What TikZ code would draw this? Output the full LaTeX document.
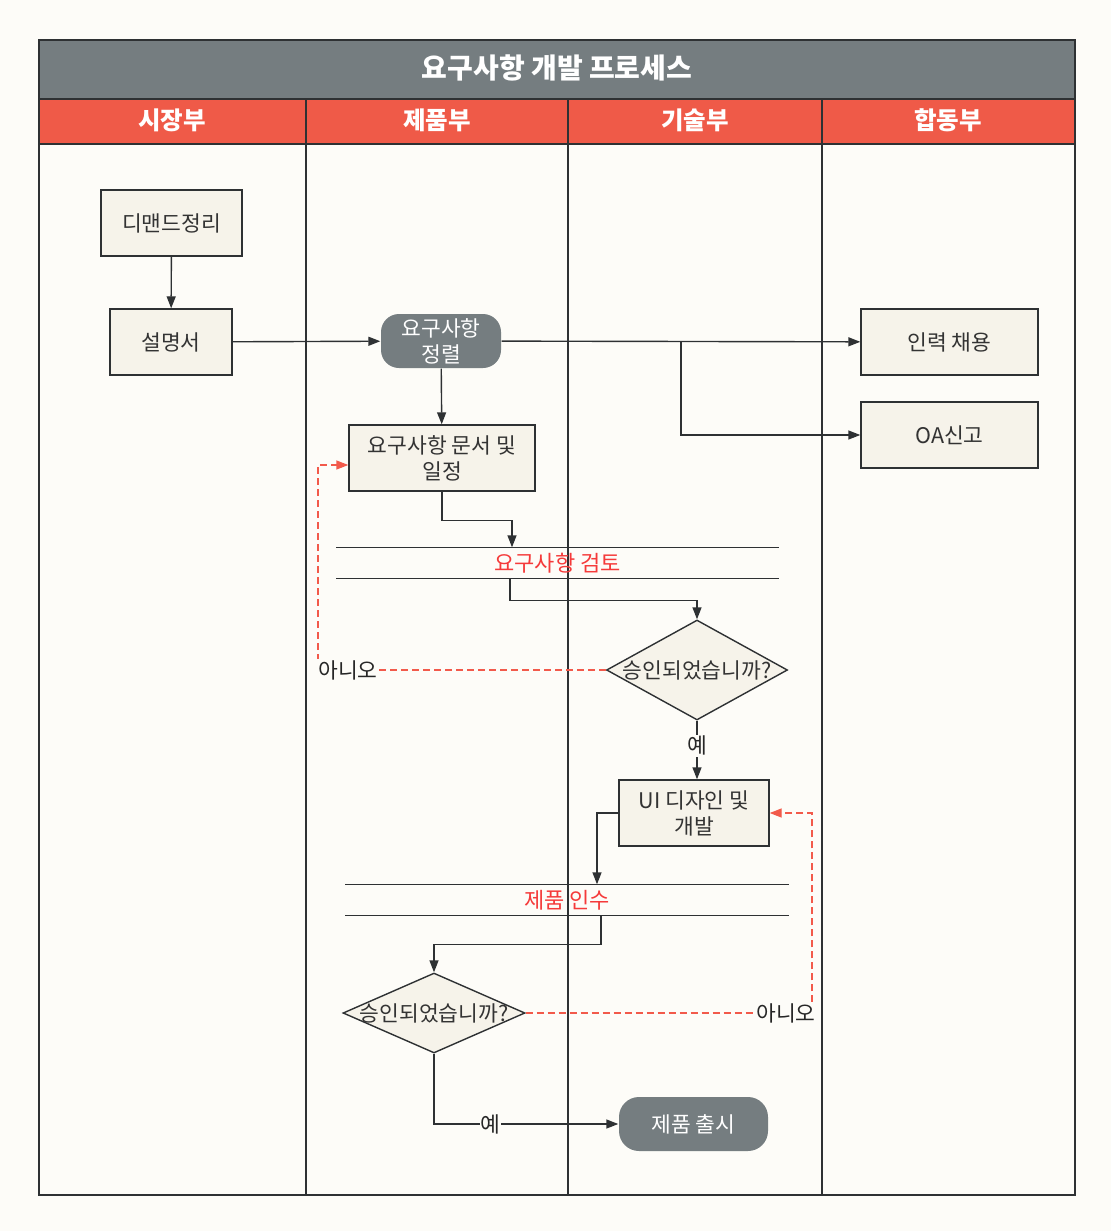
\documentclass[tikz,border=0pt]{standalone}
\usepackage{fontspec}
\setmainfont{Noto Sans CJK KR}
\usepackage{xcolor}
\usetikzlibrary{arrows.meta, shapes.geometric, calc}

\definecolor{paper}{HTML}{FDFCF8}
\definecolor{titlegray}{HTML}{757D80}
\definecolor{headred}{HTML}{EF5A48}
\definecolor{boxfill}{HTML}{F6F3EA}
\definecolor{linedark}{HTML}{2E3133}
\definecolor{nored}{HTML}{F25A4B}
\definecolor{bandred}{HTML}{F53A3A}

\begin{document}
\begin{tikzpicture}[
    x=1pt, y=-1pt,
    every path/.style={line width=1.4pt},
    box/.style={draw=linedark, line width=1.4pt, fill=boxfill, minimum width=141, minimum height=66, align=center, text=black!80, font=\fontsize{21.5}{26}\selectfont},
    term/.style={fill=titlegray, rounded corners=18pt, minimum width=120, minimum height=54, align=center, text=white, font=\fontsize{21.5}{26}\selectfont},
    decide/.style={diamond, draw=linedark, line width=1.4pt, fill=boxfill, inner sep=0pt, minimum width=181, minimum height=100, text=black!80, font=\fontsize{21.5}{24}\selectfont},
    band/.style={minimum width=441, minimum height=30, inner sep=0pt, text=bandred, font=\fontsize{22}{24}\selectfont},
    head/.style={text=white, font=\fontsize{24.5}{28}\selectfont\bfseries},
    arr/.style={-{Triangle[length=12pt, width=9pt]}, line width=1.4pt, draw=linedark},
    noarr/.style={-{Triangle[length=12pt, width=9pt]}, line width=1.4pt, draw=nored, dash pattern=on 7pt off 4pt},
    lbl/.style={fill=paper, inner sep=1pt, text=black!85, font=\fontsize{21.5}{24}\selectfont}
]

% page and frame
\useasboundingbox[fill=paper] (0,0) rectangle (1111,1231);
\fill[titlegray] (39,40) rectangle (1075,99);
\fill[headred] (39,99) rectangle (1075,144);
\draw[linedark] (39,40) rectangle (1075,1195);
\draw[linedark] (39,99) -- (1075,99);
\draw[linedark] (39,144) -- (1075,144);
\foreach \x in {306, 568, 822}
    \draw[linedark] (\x,99) -- (\x,1195);

% titles
\node[head, font=\fontsize{28}{32}\selectfont\bfseries] (title) at (557,68) {요구사항 개발 프로세스};
\node[head] (market) at (172,120) {시장부};
\node[head] (product) at (437,120) {제품부};
\node[head] (tech) at (695,120) {기술부};
\node[head] (joint) at (948,120) {합동부};

% steps
\node[box] (demand) at (171.5,223) {디맨드정리};
\node[box, minimum width=122] (spec) at (171,342) {설명서};
\node[term] (sort) at (441,341) {요구사항\\정렬};
\node[box, minimum width=186] (doc) at (442,458) {요구사항 문서 및\\일정};
\node[box, minimum width=177] (hire) at (949.5,342) {인력 채용};
\node[box, minimum width=177] (oa) at (949.5,435) {OA신고};
\node[band] (review) at (557.5,563) {요구사항 검토};
\node[decide] (check1) at (697,670) {\makebox[0pt]{승인되었습니까?}};
\node[box, minimum width=150] (ui) at (694,813) {UI 디자인 및\\개발};
\node[band, minimum width=442] (accept) at (567,900) {제품 인수};
\node[decide, minimum width=182, minimum height=80] (check2) at (434,1013) {\makebox[0pt]{승인되었습니까?}};
\node[term, minimum width=149, rounded corners=20pt] (launch) at (693.5,1124) {제품 출시};

\draw[linedark] (review.north west) -- (review.north east);
\draw[linedark] (review.south west) -- (review.south east);
\draw[linedark] (accept.north west) -- (accept.north east);
\draw[linedark] (accept.south west) -- (accept.south east);

\coordinate (split) at (681,342);

% connectors
\draw[arr] (demand) -- (spec);
\draw[arr] (spec) -- (sort);
\draw[arr] (sort) -- (hire);
\draw[arr] (split) |- (oa.west);
\draw[arr] (sort) -- (doc);
\draw[arr] (doc.south) -- ++(0,29) -| ([xshift=-45.5pt]review.north);
\draw[arr] ([xshift=-47.5pt]review.south) -- ++(0,22) -| (check1.north);
\draw[noarr] (check1.west) -- node[lbl, pos=0.896] {아니오} (318,670) |- ([yshift=-7pt]doc.west);
\draw[arr] (check1.south) -- node[lbl, pos=0.43] {예} (check1.south |- ui.north);
\draw[arr] (ui.west) -| ([xshift=30pt]accept.north);
\draw[arr] ([xshift=34pt]accept.south) -- ++(0,29) -| (check2.north);
\draw[noarr] (check2.east) -- node[lbl, pos=0.909] {아니오} (812,1013) |- (ui.east);
\draw[arr] (check2.south) |- node[lbl, pos=0.653] {예} (launch.west);

\end{tikzpicture}
\end{document}
